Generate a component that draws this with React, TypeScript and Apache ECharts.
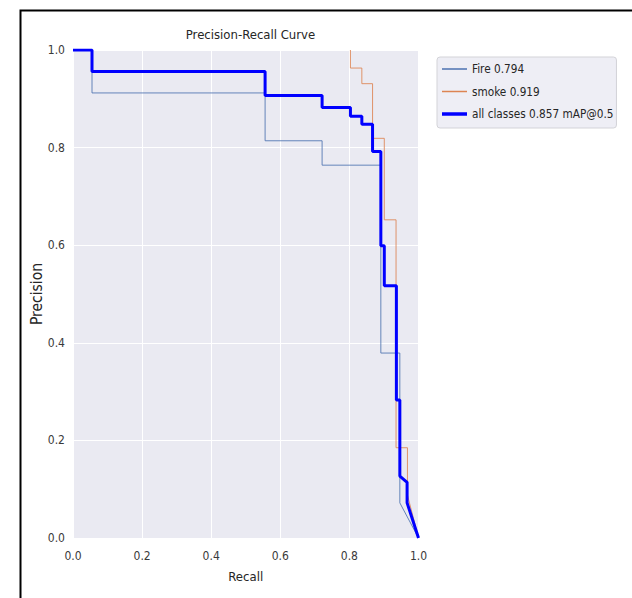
import React, { useEffect, useRef } from "react";
import * as echarts from "echarts";

const fireRecall = [0, 0.055, 0.055, 0.556, 0.556, 0.721, 0.721, 0.891, 0.891, 0.946, 0.946, 1.0];
const firePrecision = [1, 1, 0.912, 0.912, 0.814, 0.814, 0.764, 0.764, 0.379, 0.379, 0.072, 0];

const smokeRecall = [0.803, 0.803, 0.836, 0.836, 0.867, 0.867, 0.901, 0.901, 0.935, 0.935, 0.968, 0.968, 1.0];
const smokePrecision = [1.0, 0.963, 0.963, 0.931, 0.931, 0.819, 0.819, 0.652, 0.652, 0.185, 0.185, 0.088, 0];

const allRecall = [0, 0.055, 0.055, 0.556, 0.556, 0.721, 0.721, 0.803, 0.803, 0.836, 0.836, 0.867, 0.867, 0.891, 0.891, 0.901, 0.901, 0.936, 0.936, 0.946, 0.946, 0.967, 0.967, 1.0];
const allPrecision = [1, 1, 0.956, 0.956, 0.907, 0.907, 0.882, 0.882, 0.864, 0.864, 0.848, 0.848, 0.792, 0.792, 0.599, 0.599, 0.517, 0.517, 0.283, 0.283, 0.127, 0.114, 0.072, 0];

const seriesNames = ["Fire 0.794", "smoke 0.919", "all classes 0.857 mAP@0.5"];
const xTicks = [0, 0.2, 0.4, 0.6, 0.8, 1.0];

const FONT = "'DejaVu Sans Condensed', 'Liberation Sans Narrow', 'DejaVu Sans', sans-serif";

const pairs = (xs: number[], ys: number[]) => xs.map((x, i) => [x, ys[i]]);

export default function App() {
  const ref = useRef<HTMLDivElement>(null);
  useEffect(() => {
    if (!ref.current) return;
    const chart = echarts.init(ref.current, null, { renderer: "svg" });
    chart.setOption({
      animation: false,
      backgroundColor: "#ffffff",
      textStyle: { fontFamily: FONT },
      title: {
        text: "Precision-Recall Curve",
        left: 245.5,
        top: 23,
        textAlign: "center",
        textStyle: { fontFamily: FONT, fontSize: 13, fontWeight: "normal", color: "#262626" },
      },
      grid: { left: 73, right: 213.5, top: 50, bottom: 60, show: true, backgroundColor: "#eaeaf2", borderWidth: 0 },
      legend: {
        orient: "vertical",
        left: 437,
        top: 57,
        padding: [6, 3, 8, 5],
        itemGap: 10.5,
        itemWidth: 25,
        itemHeight: 14,
        backgroundColor: "#eeeef5",
        borderColor: "#d3d3d8",
        borderWidth: 1,
        borderRadius: 3,
        itemStyle: { borderWidth: 0 },
        textStyle: { fontFamily: FONT, fontSize: 11.7, color: "#262626" },
        data: [
          { name: seriesNames[0], icon: "path://M0,0h25v1.5h-25z", itemStyle: { color: "#4C72B0", borderWidth: 0 } },
          { name: seriesNames[1], icon: "path://M0,0h25v1.5h-25z", itemStyle: { color: "#DD8452", borderWidth: 0 } },
          { name: seriesNames[2], icon: "path://M0,0h25v3.5h-25z", itemStyle: { color: "#0000ff", borderWidth: 0 } },
        ],
      },
      xAxis: {
        type: "value",
        min: 0,
        max: 1,
        interval: 0.2,
        name: "Recall",
        nameLocation: "middle",
        nameGap: 32,
        nameMoveOverlap: false,
        nameTextStyle: { fontFamily: FONT, fontSize: 13, color: "#262626" },
        axisLine: { show: false },
        axisTick: { show: false },
        axisLabel: {
          margin: 12,
          fontFamily: FONT,
          fontSize: 12,
          color: "#3a3a3a",
          formatter: (v: number) => (xTicks.some((t) => Math.abs(t - v) < 1e-9) ? v.toFixed(1) : ""),
        },
        splitLine: { show: true, lineStyle: { color: "#ffffff", width: 1 } },
      },
      yAxis: {
        type: "value",
        min: 0,
        max: 1,
        interval: 0.2,
        name: "Precision",
        nameLocation: "middle",
        nameGap: 28,
        nameMoveOverlap: false,
        nameTextStyle: { fontFamily: FONT, fontSize: 15.5, color: "#262626" },
        axisLine: { show: false },
        axisTick: { show: false },
        axisLabel: {
          margin: 8,
          fontFamily: FONT,
          fontSize: 12,
          color: "#3a3a3a",
          formatter: (v: number) => v.toFixed(1),
        },
        splitLine: { show: true, lineStyle: { color: "#ffffff", width: 1 } },
      },
      series: [
        {
          name: seriesNames[0],
          type: "line",
          data: pairs(fireRecall, firePrecision),
          showSymbol: false,
          symbol: "none",
          color: "#4C72B0",
          lineStyle: { color: "#4C72B0", width: 1, opacity: 0.85 },
          z: 2,
        },
        {
          name: seriesNames[1],
          type: "line",
          data: pairs(smokeRecall, smokePrecision),
          showSymbol: false,
          symbol: "none",
          color: "#DD8452",
          lineStyle: { color: "#DD8452", width: 1, opacity: 0.85 },
          z: 3,
        },
        {
          name: seriesNames[2],
          type: "line",
          data: pairs(allRecall, allPrecision),
          showSymbol: false,
          symbol: "none",
          color: "#0000ff",
          lineStyle: { color: "#0000ff", width: 3 },
          z: 4,
        },
      ],
      graphic: [
        {
          type: "rect",
          left: 18,
          top: 8,
          shape: { width: 700, height: 700 },
          style: { fill: "none", stroke: "#000000", lineWidth: 2 },
          silent: true,
          z: 100,
        },
      ],
    });
    return () => chart.dispose();
  }, []);
  return <div ref={ref} style={{ position: "fixed", left: 0, top: 0, width: 632, height: 598 }} />;
}
